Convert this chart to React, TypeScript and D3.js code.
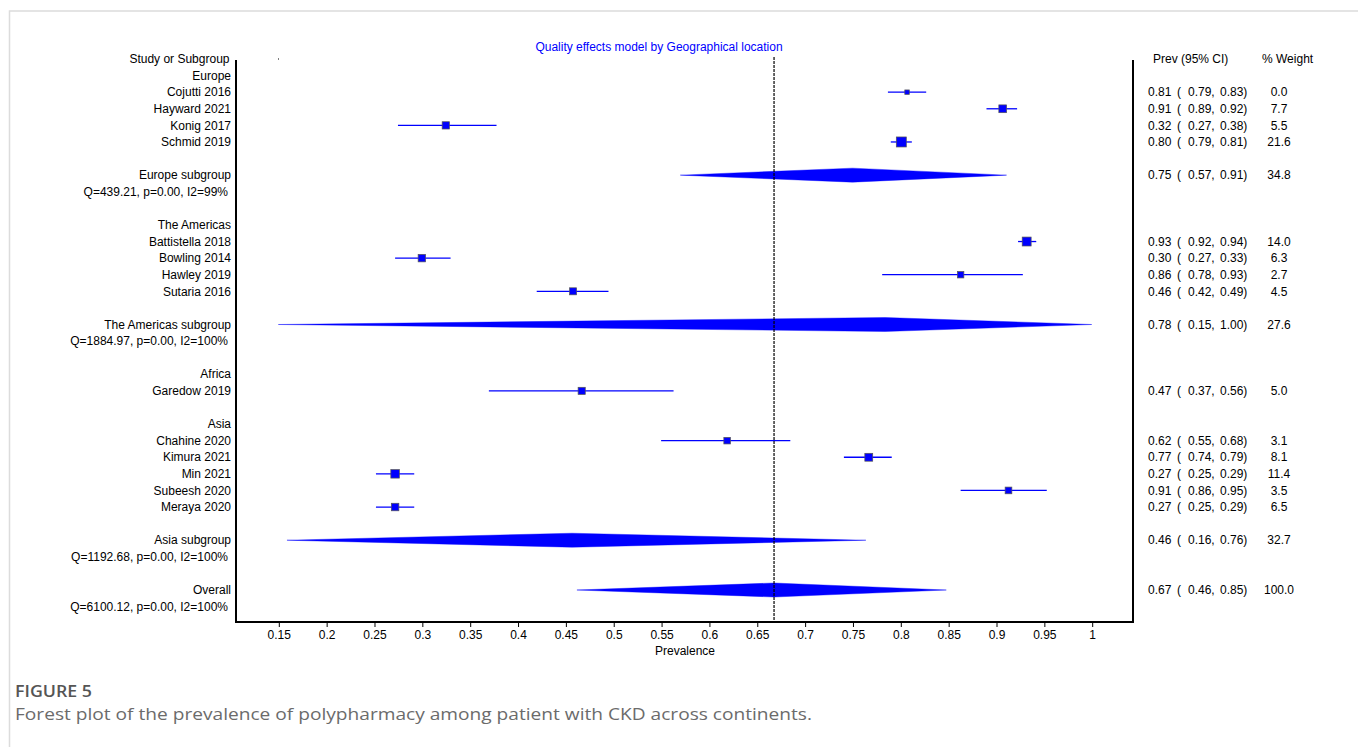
import * as d3 from "d3";

const groups = ["Europe", "The Americas", "Africa", "Asia"];

const studyNames = [
  "Cojutti 2016", "Hayward 2021", "Konig 2017", "Schmid 2019",
  "Battistella 2018", "Bowling 2014", "Hawley 2019", "Sutaria 2016",
  "Garedow 2019",
  "Chahine 2020", "Kimura 2021", "Min 2021", "Subeesh 2020", "Meraya 2020",
];
const studyGroup = [0, 0, 0, 0, 1, 1, 1, 1, 2, 3, 3, 3, 3, 3];
const studyPrev = [0.806, 0.906, 0.324, 0.8, 0.931, 0.299, 0.862, 0.457, 0.466, 0.618, 0.766, 0.271, 0.912, 0.271];
const studyLo = [0.786, 0.889, 0.274, 0.789, 0.922, 0.271, 0.78, 0.419, 0.369, 0.549, 0.74, 0.251, 0.862, 0.251];
const studyHi = [0.826, 0.921, 0.377, 0.811, 0.941, 0.329, 0.927, 0.494, 0.562, 0.684, 0.79, 0.291, 0.952, 0.291];
const studyWeight = [0.0, 7.7, 5.5, 21.6, 14.0, 6.3, 2.7, 4.5, 5.0, 3.1, 8.1, 11.4, 3.5, 6.5];

// Africa has only one study, so no pooled row
const subgroupOf = [0, 1, 3];
const subgroupPrev = [0.749, 0.783, 0.456];
const subgroupLo = [0.569, 0.149, 0.158];
const subgroupHi = [0.91, 0.999, 0.763];
const subgroupWeight = [34.8, 27.6, 32.7];
const subgroupHet = ["Q=439.21, p=0.00, I2=99%", "Q=1884.97, p=0.00, I2=100%", "Q=1192.68, p=0.00, I2=100%"];

const overallPrev = 0.667;
const overallLo = 0.461;
const overallHi = 0.847;
const overallWeight = 100.0;
const overallHet = "Q=6100.12, p=0.00, I2=100%";

const xTicks = [0.15, 0.2, 0.25, 0.3, 0.35, 0.4, 0.45, 0.5, 0.55, 0.6, 0.65, 0.7, 0.75, 0.8, 0.85, 0.9, 0.95, 1];

const BLUE = "#0000ff";
const FONT = "'Liberation Sans', Arial, sans-serif";
const FS = 12;
const LEFT = 236;
const RIGHT = 1133;
const TOP = 60;
const BOTTOM = 622;

type Row = {
  kind: "label" | "study" | "sub" | "het";
  text: string;
  row: number;
  est?: number;
  lo?: number;
  hi?: number;
  w?: number;
};

function buildRows(): Row[] {
  const rows: Row[] = [];
  let r = 1;
  groups.forEach((g, gi) => {
    rows.push({ kind: "label", text: g, row: r++ });
    studyNames.forEach((n, i) => {
      if (studyGroup[i] !== gi) return;
      rows.push({ kind: "study", text: n, row: r++, est: studyPrev[i], lo: studyLo[i], hi: studyHi[i], w: studyWeight[i] });
    });
    const s = subgroupOf.indexOf(gi);
    r++;
    if (s >= 0) {
      rows.push({ kind: "sub", text: g + " subgroup", row: r++, est: subgroupPrev[s], lo: subgroupLo[s], hi: subgroupHi[s], w: subgroupWeight[s] });
      rows.push({ kind: "het", text: subgroupHet[s], row: r++ });
      r++;
    }
  });
  rows.push({ kind: "sub", text: "Overall", row: r++, est: overallPrev, lo: overallLo, hi: overallHi, w: overallWeight });
  rows.push({ kind: "het", text: overallHet, row: r++ });
  return rows;
}

export default function App() {
  const x = d3.scaleLinear().domain([0.15, 1]).range([279.3, 1092.7]);
  const y = d3.scaleLinear().domain([0, 32]).range([59, 590]);
  const size = d3.scaleSqrt().domain([0, 21.6]).range([4.5, 10]);
  const f2 = d3.format(".2f");
  const f1 = d3.format(".1f");
  const rows = buildRows();

  const diamond = (r: Row) => {
    const cy = y(r.row);
    return d3.line()([
      [x(r.lo!), cy],
      [x(r.est!), cy - 7],
      [x(r.hi!), cy],
      [x(r.est!), cy + 7],
    ]) + "Z";
  };

  return (
    <svg width={1358} height={747} style={{ position: "absolute", left: 0, top: 0, background: "#fff" }}>
      <rect x={9.5} y={11} width={1400} height={800} fill="none" stroke="#dcdcdc" strokeWidth={1.5} />

      <text x={659} y={47} dy="0.35em" textAnchor="middle" fontFamily={FONT} fontSize={FS} fill={BLUE}>
        Quality effects model by Geographical location
      </text>

      {/* frame */}
      <g stroke="#000" strokeWidth={2} fill="none">
        <line x1={LEFT} y1={TOP} x2={LEFT} y2={BOTTOM + 1} />
        <line x1={RIGHT} y1={TOP} x2={RIGHT} y2={BOTTOM + 1} />
        <line x1={LEFT} y1={BOTTOM} x2={RIGHT + 1} y2={BOTTOM} />
      </g>
      <rect x={278} y={58.5} width={1} height={1} fill="#000" />

      {/* x axis */}
      <g fontFamily={FONT} fontSize={FS} fill="#000">
        {xTicks.map((t) => (
          <g key={t}>
            <line x1={x(t)} x2={x(t)} y1={BOTTOM + 1} y2={BOTTOM + 5} stroke="#000" strokeWidth={1} />
            <text x={x(t)} y={635} dy="0.35em" textAnchor="middle">{String(t)}</text>
          </g>
        ))}
        <text x={685} y={651} dy="0.35em" textAnchor="middle">Prevalence</text>
      </g>

      {/* left labels */}
      <g fontFamily={FONT} fontSize={FS} fill="#000" textAnchor="end">
        <text x={229.5} y={y(0)} dy="0.35em">Study or Subgroup</text>
        {rows.map((r, i) => (
          <text key={i} x={r.kind === "het" ? 228 : 231} y={y(r.row)} dy="0.35em">{r.text}</text>
        ))}
      </g>

      {/* marks */}
      {rows.filter((r) => r.kind === "sub").map((r, i) => (
        <path key={"d" + i} d={diamond(r)} fill={BLUE} stroke={BLUE} strokeWidth={0.4} />
      ))}
      {rows.filter((r) => r.kind === "study").map((r, i) => {
        const s = size(r.w!);
        const cy = y(r.row);
        return (
          <g key={"s" + i}>
            <line x1={x(r.lo!)} x2={x(r.hi!)} y1={cy} y2={cy} stroke={BLUE} strokeWidth={1.3} />
            <rect x={x(r.est!) - s / 2} y={cy - s / 2} width={s} height={s} fill={BLUE} stroke="#555" strokeWidth={0.7} />
          </g>
        );
      })}

      <line x1={x(overallPrev)} x2={x(overallPrev)} y1={57} y2={BOTTOM} stroke="#000" strokeWidth={1.2} strokeDasharray="3,1" />

      {/* right table */}
      <g fontFamily={FONT} fontSize={FS} fill="#000">
        <text x={1153} y={y(0)} dy="0.35em">Prev (95% CI)</text>
        <text x={1262} y={y(0)} dy="0.35em">% Weight</text>
        {rows.filter((r) => r.kind === "study" || r.kind === "sub").map((r, i) => {
          const cy = y(r.row);
          return (
            <g key={"t" + i}>
              <text x={1148} y={cy} dy="0.35em">{f2(r.est!)}</text>
              <text x={1177} y={cy} dy="0.35em">(</text>
              <text x={1188} y={cy} dy="0.35em">{f2(r.lo!) + ","}</text>
              <text x={1220} y={cy} dy="0.35em">{f2(r.hi!) + ")"}</text>
              <text x={1279} y={cy} dy="0.35em" textAnchor="middle">{f1(r.w!)}</text>
            </g>
          );
        })}
      </g>

      {/* caption */}
      <text x={15} y={697} fontFamily="'Open Sans', 'Noto Sans', sans-serif" fontSize={16} fontWeight={600} fill="#555" textLength={77} lengthAdjust="spacingAndGlyphs">
        FIGURE 5
      </text>
      <text x={15} y={720} fontFamily="'Open Sans', 'Noto Sans', sans-serif" fontSize={17} fill="#6b6b6b" textLength={797} lengthAdjust="spacingAndGlyphs">
        Forest plot of the prevalence of polypharmacy among patient with CKD across continents.
      </text>
    </svg>
  );
}
